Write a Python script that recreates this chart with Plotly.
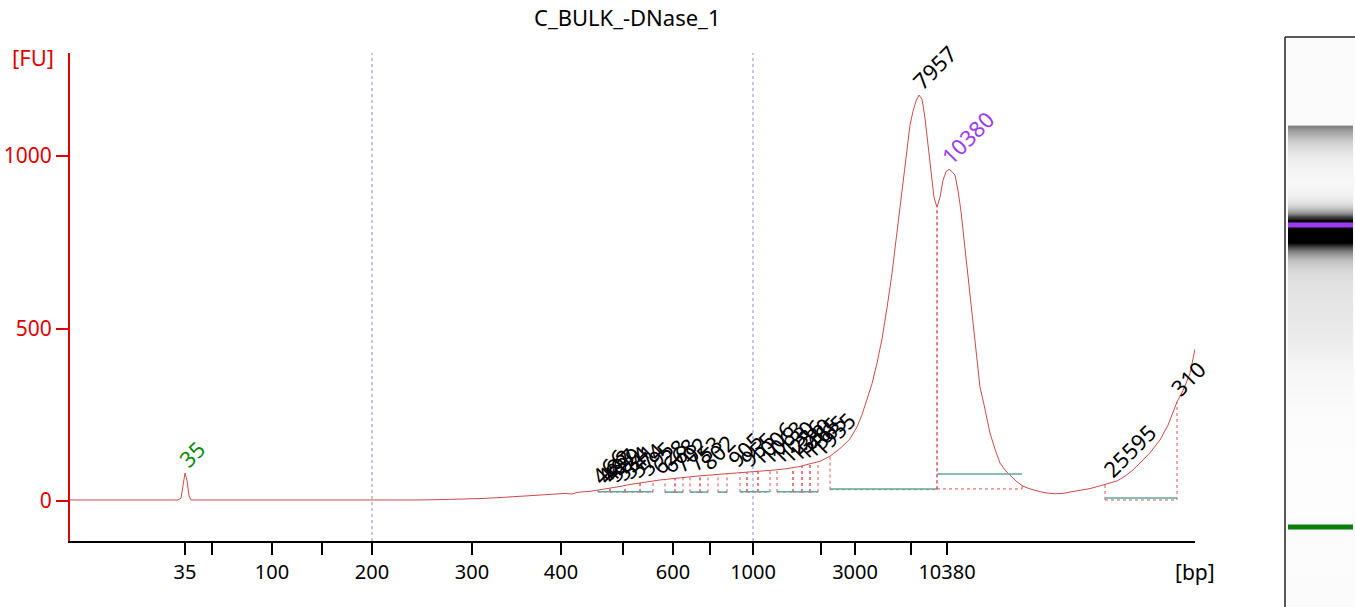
import numpy as np
import plotly.graph_objects as go

W, H = 1355, 607

# ---------------- data (migration position units, fluorescence FU) ----------------
trace_pos = [70, 80, 90, 100, 110, 120, 130, 140, 146, 148, 160, 170, 178, 181, 183, 185, 187, 189, 191,
             200, 215, 250, 300, 350, 400, 420, 440, 460, 480, 500, 520, 540, 555, 565, 572, 576, 580,
             590, 600, 610, 620, 630, 640, 650, 660, 670, 680, 690, 700, 710, 720, 730, 740, 753, 765,
             775, 785, 793, 800, 810, 820, 830, 840, 850, 857, 862, 867, 872, 877, 882, 887, 892, 897,
             902, 906, 910, 913, 916, 919, 922, 925, 928, 931, 934, 937, 940, 943, 946, 949, 952, 955,
             958, 961, 964, 967, 970, 973, 976, 980, 983, 987, 990, 995, 1000, 1005, 1010, 1016, 1023,
             1030, 1040, 1047, 1055, 1063, 1070, 1080, 1090, 1100, 1108, 1117, 1125, 1133, 1140, 1150,
             1160, 1168, 1177, 1183, 1190, 1195]
trace_fu = [3, 3, 2, 3, 3, 2, 3, 3, 1, 3, 3, 3, 3, 8, 40, 81, 60, 15, 3,
            3, 1, 1, 1, 1, 2, 3, 4, 5, 7, 10, 13, 17, 20, 22, 20, 24, 26,
            28, 32, 36, 42, 48, 53, 57, 61, 64, 68, 70, 73, 75, 78, 80, 82, 84, 88,
            90, 93, 96, 100, 108, 115, 130, 152, 180, 215, 250, 293, 340, 400, 470, 560, 660, 780,
            900, 1000, 1090, 1130, 1160, 1177, 1165, 1110, 1030, 950, 880, 852, 880, 930, 955, 962, 955, 945,
            900, 840, 760, 670, 580, 500, 420, 330, 293, 240, 197, 150, 110, 90, 75, 58, 43,
            35, 27, 23, 21, 22, 26, 30, 36, 44, 50, 58, 72, 90, 110, 140,
            177, 220, 287, 320, 370, 440]

# size ladder (bp) and its migration positions
ladder_bp = [35, 50, 100, 150, 200, 300, 400, 500, 600, 700, 1000, 2000, 3000, 7000, 10380]
ladder_pos = [185, 212, 272, 322, 372, 472, 561, 623, 673, 710, 753, 821, 855, 911, 947]
ladder_shown = [True, False, True, False, True, True, True, False, True, False, True, False, True, False, True]
grid_bp = [200, 1000]

# called peaks
peak_pos = [598, 603, 608, 613, 620, 627, 635, 645, 658, 668, 679, 693, 706, 734, 746, 757, 767,
            777, 786, 795, 802, 809, 818, 919, 948, 185, 1110, 1177]
peak_label = ["466", "482", "497", "509", "534", "541", "574", "595", "628", "668", "702", "753", "802",
              "905", "955", "1006", "1063", "1130", "1236", "1330", "1465", "1565", "1955", "7957", "10380",
              "35", "25595", "310"]
peak_kind = ["s"] * 23 + ["s", "upper", "lower", "s", "s"]

# integration regions
reg_start = [598, 610, 625, 640, 665, 675, 690, 700, 718, 740, 747, 758, 777, 793, 802, 810, 830, 937, 1105]
reg_end = [610, 625, 640, 653, 675, 683, 700, 708, 727, 747, 758, 770, 793, 802, 810, 818, 937, 1022, 1177]
reg_base = [27, 27, 27, 27, 26, 26, 26, 26, 26, 27, 27, 27, 27, 27, 27, 27, 35, 78, 9]
reg_floor = [26, 26, 26, 26, 25, 25, 25, 25, 25, 26, 26, 26, 26, 26, 26, 26, 33, 35, 3]

lower_marker_pos = 185
upper_marker_pos = 947

# ---------------- geometry helpers ----------------
def px(x):
    return x / W

def py(y):
    return (H - y) / H

TRACE = "#cf4a4a"
TEAL = "#5fa8a0"
FONT = "Noto Sans"

fig = go.Figure()

fig.add_trace(go.Scatter(x=trace_pos, y=trace_fu, mode="lines", line=dict(color=TRACE, width=1),
                         hoverinfo="skip", showlegend=False, xaxis="x", yaxis="y"))

shapes = []
# grid lines (dotted) at 200 and 1000 bp
for bp in grid_bp:
    p = ladder_pos[ladder_bp.index(bp)]
    shapes.append(dict(type="line", xref="x", yref="paper", x0=p, x1=p, y0=py(541), y1=py(53),
                       line=dict(color="#8a8ad8", width=1, dash="dot"), layer="below"))

# integration regions
for s, e, b, f in zip(reg_start, reg_end, reg_base, reg_floor):
    ys = float(np.interp(s, trace_pos, trace_fu))
    ye = float(np.interp(e, trace_pos, trace_fu))
    shapes.append(dict(type="line", xref="x", yref="y", x0=s, x1=s, y0=f, y1=ys,
                       line=dict(color="#e05050", width=1, dash="dot")))
    shapes.append(dict(type="line", xref="x", yref="y", x0=e, x1=e, y0=f, y1=ye,
                       line=dict(color="#e05050", width=1, dash="dot")))
    shapes.append(dict(type="line", xref="x", yref="y", x0=s, x1=e, y0=f, y1=f,
                       line=dict(color="#e05050", width=1, dash="dot")))
    shapes.append(dict(type="line", xref="x", yref="y", x0=s, x1=e, y0=b, y1=b,
                       line=dict(color=TEAL, width=1.5)))

# gel panel
shapes.append(dict(type="rect", xref="paper", yref="paper", x0=px(1285), x1=1, y0=0, y1=py(37),
                   fillcolor="#fbfbfb", line=dict(width=0), layer="below"))
shapes.append(dict(type="line", xref="paper", yref="paper", x0=px(1285), x1=px(1285), y0=0, y1=py(37),
                   line=dict(color="#222222", width=1.5)))
shapes.append(dict(type="line", xref="paper", yref="paper", x0=px(1285), x1=1, y0=py(37), y1=py(37),
                   line=dict(color="#222222", width=1.5)))
shapes.append(dict(type="line", xref="x2", yref="y2", x0=-0.5, x1=0.5, y0=upper_marker_pos, y1=upper_marker_pos,
                   line=dict(color="#9b3cf0", width=5)))
shapes.append(dict(type="line", xref="x2", yref="y2", x0=-0.5, x1=0.5, y0=lower_marker_pos, y1=lower_marker_pos,
                   line=dict(color="#0a7d0a", width=5)))

fig.add_trace(go.Heatmap(x=[0], y=trace_pos, z=[[v] for v in trace_fu], xaxis="x2", yaxis="y2",
                         colorscale=[[0, "#fdfdfd"], [1, "#000000"]], zmin=0, zmax=900,
                         showscale=False, zsmooth="best", hoverinfo="skip"))

annotations = []
for p, lab, k in zip(peak_pos, peak_label, peak_kind):
    yv = float(np.interp(p, trace_pos, trace_fu))
    col = {"s": "#000000", "upper": "#9b3cf0", "lower": "#0a8a0a"}[k]
    annotations.append(dict(x=p, y=yv, xref="x", yref="y", text=lab, showarrow=False, textangle=-45,
                            xanchor="left", yanchor="bottom", xshift=-16, yshift=-3,
                            font=dict(family=FONT, size=22, color=col)))

annotations.append(dict(x=px(627), y=py(17), xref="paper", yref="paper", text="C_BULK_-DNase_1",
                        xanchor="center", yanchor="middle",
                        showarrow=False, font=dict(family=FONT, size=22, color="#000000")))
annotations.append(dict(x=px(1195), y=py(572), xref="paper", yref="paper", text="[bp]",
                        xanchor="center", yanchor="middle",
                        showarrow=False, font=dict(family=FONT, size=21, color="#000000")))
annotations.append(dict(x=px(33), y=py(57), xref="paper", yref="paper", text="[FU]",
                        xanchor="center", yanchor="middle",
                        showarrow=False, font=dict(family=FONT, size=22, color="#e00000")))

tickvals = ladder_pos
ticktext = [str(b) if s else "" for b, s in zip(ladder_bp, ladder_shown)]

fig.update_layout(
    width=W, height=H, margin=dict(l=0, r=0, t=0, b=0),
    paper_bgcolor="white", plot_bgcolor="white",
    showlegend=False,
    xaxis=dict(domain=[px(70), px(1195)], range=[70, 1195], showgrid=False, zeroline=False,
               showline=True, linecolor="black", linewidth=2, ticks="outside", ticklen=12, tickwidth=2,
               tickcolor="black", tickvals=tickvals, ticktext=ticktext,
               tickfont=dict(family=FONT, size=20, color="black"), anchor="y"),
    yaxis=dict(domain=[py(541), py(53)], range=[-116, 1299], showgrid=False, zeroline=False,
               showline=True, linecolor="#e00000", linewidth=2, ticks="outside", ticklen=12, tickwidth=2,
               tickcolor="#e00000", tickvals=[0, 500, 1000],
               tickfont=dict(family=FONT, size=21, color="#e00000"), anchor="x"),
    xaxis2=dict(domain=[px(1288), px(1353)], range=[-0.5, 0.5], visible=False, anchor="y2"),
    yaxis2=dict(domain=[0, py(37)], range=[-17, 1421], visible=False, anchor="x2"),
    shapes=shapes, annotations=annotations,
)

fig.write_html("out.html", config={"displayModeBar": False},
               post_script="document.body.style.margin='0px';document.body.style.overflow='hidden';")
